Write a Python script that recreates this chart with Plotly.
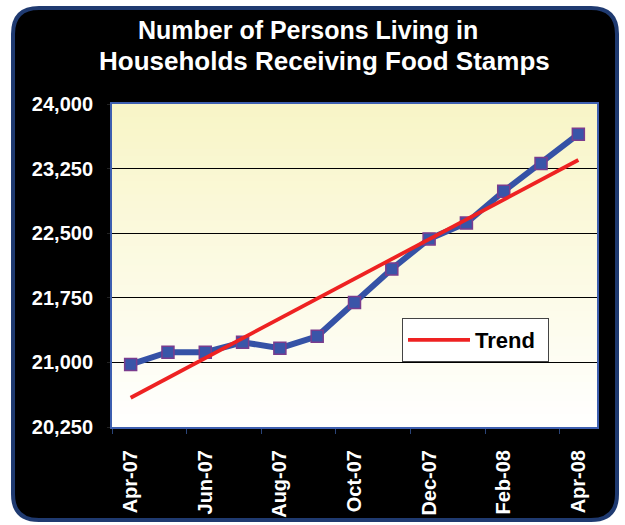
import plotly.graph_objects as go

# ---- data ----
months = ["Apr-07", "May-07", "Jun-07", "Jul-07", "Aug-07", "Sep-07", "Oct-07",
          "Nov-07", "Dec-07", "Jan-08", "Feb-08", "Mar-08", "Apr-08"]
persons = [20977, 21119, 21119, 21234, 21165, 21303, 21696,
           22085, 22434, 22618, 22987, 23310, 23650]
trend_months = ["Apr-07", "Apr-08"]
trend_values = [20590, 23350]
y_ticks = [20250, 21000, 21750, 22500, 23250, 24000]
title_lines = ["Number of Persons Living in", "Households Receiving Food Stamps"]

W, H = 625, 525
L, R, T, B = 112, 597, 104, 427
PW, PH = R - L, B - T


def px(p):
    return (p - L) / PW


def py(p):
    return (B - p) / PH


idx = {m: i for i, m in enumerate(months)}
x_main = [idx[m] for m in months]
x_trend = [idx[m] for m in trend_months]

fig = go.Figure()
fig.add_trace(go.Scatter(
    x=x_main, y=persons, mode="lines+markers", showlegend=False,
    line=dict(color="#3552a6", width=6),
    marker=dict(symbol="square", size=12, color="#3a55a8",
                line=dict(color="#7a3c8e", width=1.5)),
))
fig.add_trace(go.Scatter(
    x=x_trend, y=trend_values, mode="lines", name="Trend",
    line=dict(color="#ee2222", width=3.8),
))

shapes = []
# outer rounded black panel
x0, x1, y0, y1, r = 13, 617, 8, 520, 26


def P(a, b):
    return f"{px(a):.5f},{py(b):.5f}"


path = (f"M{P(x0 + r, y0)} L{P(x1 - r, y0)} Q{P(x1, y0)} {P(x1, y0 + r)} "
        f"L{P(x1, y1 - r)} Q{P(x1, y1)} {P(x1 - r, y1)} "
        f"L{P(x0 + r, y1)} Q{P(x0, y1)} {P(x0, y1 - r)} "
        f"L{P(x0, y0 + r)} Q{P(x0, y0)} {P(x0 + r, y0)} Z")
shapes.append(dict(type="path", xref="paper", yref="paper", path=path,
                   fillcolor="black", line=dict(color="#1f3a70", width=4),
                   layer="below"))
# gradient background of plot area (overlapping bands, drawn bottom to top)
N = 50
top = (248, 245, 198)
for i in range(N):
    f = (i + 0.5) / N  # 0 bottom -> 1 top
    c = tuple(round(255 + (t - 255) * f) for t in top)
    shapes.append(dict(type="rect", xref="x domain", yref="y domain",
                       x0=0, x1=1, y0=i / N, y1=min(1.0, (i + 2) / N),
                       fillcolor=f"rgb{c}", line=dict(width=0), layer="below"))
fig.update_layout(shapes=shapes)

for line_text, xpix, ypix, fs in zip(title_lines, [308, 324], [30, 61], [25, 26]):
    fig.add_annotation(text=line_text, xref="paper", yref="paper",
                       x=px(xpix), y=py(ypix), xanchor="center", yanchor="middle",
                       showarrow=False,
                       font=dict(size=fs, color="white", weight="bold"))

fig.update_layout(
    width=W, height=H,
    margin=dict(l=L, r=W - R, t=T, b=H - B, autoexpand=False),
    paper_bgcolor="white",
    plot_bgcolor="rgba(0,0,0,0)",
    font=dict(family="Liberation Sans, Arial, sans-serif", color="white"),
    legend=dict(x=px(402), y=py(318), xanchor="left", yanchor="top",
                orientation="h",
                bgcolor="white", bordercolor="#444444", borderwidth=1,
                font=dict(size=22, color="black", weight="bold"),
                itemwidth=62, entrywidth=68, tracegroupgap=0),
)
fig.update_xaxes(
    automargin=False,
    range=[-0.5, 12.5], tickmode="array",
    tickvals=x_main[::2], ticktext=months[::2], tickangle=-90,
    ticks="", showgrid=False, zeroline=False,
    showline=True, mirror=True, linecolor="#3e5fb0", linewidth=2,
    tickfont=dict(size=20, color="white", weight="bold"),
    ticklabelstandoff=13,
    minor=dict(tickvals=[-0.5, 1.5, 3.5, 5.5, 7.5, 9.5, 11.5], ticks="outside",
               ticklen=5, tickcolor="#2a4478", tickwidth=1, showgrid=False),
)
fig.update_yaxes(
    automargin=False,
    range=[y_ticks[0], y_ticks[-1]], tickmode="array", tickvals=y_ticks,
    tickformat=",", showgrid=True, gridcolor="black", gridwidth=1,
    zeroline=False, showline=True, mirror=True, linecolor="#3e5fb0", linewidth=2,
    ticks="outside", ticklen=3, tickcolor="#222222",
    tickfont=dict(size=20, color="white", weight="bold"),
    ticklabelstandoff=10,
)

fig.write_html("out.html", config={"displayModeBar": False},
               post_script="document.body.style.margin='0px';"
                           "document.body.style.overflow='hidden';")
